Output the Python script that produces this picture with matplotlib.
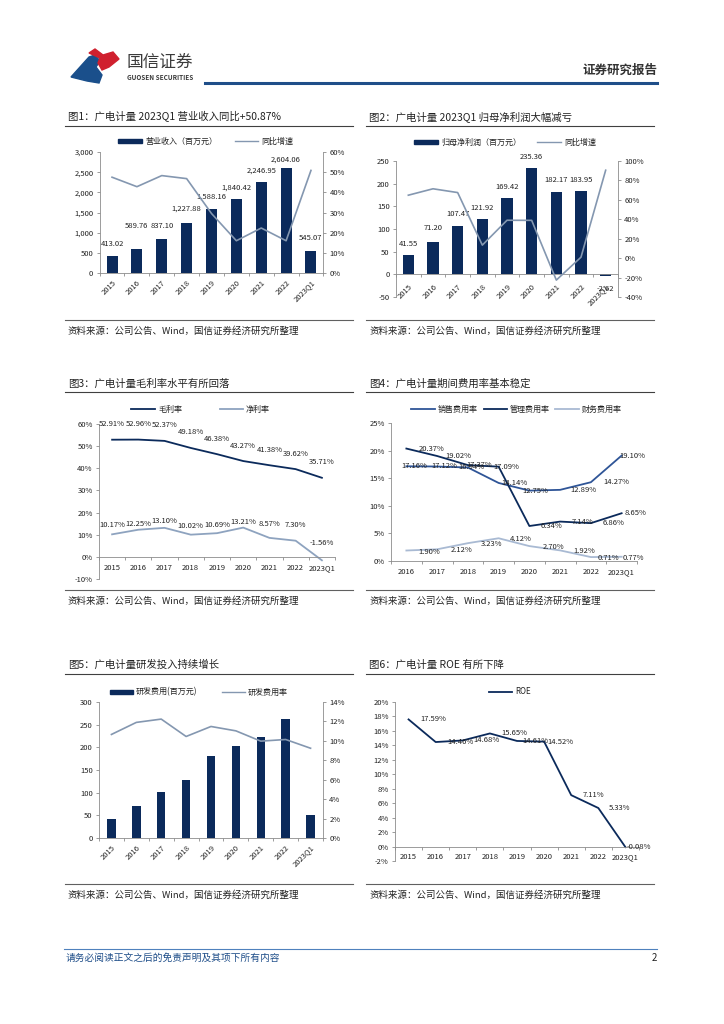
import matplotlib
matplotlib.use('Agg')
import matplotlib.pyplot as plt
from matplotlib.lines import Line2D
from matplotlib.patches import Polygon, Rectangle
import numpy as np

plt.rcParams['font.family'] = ['Noto Sans CJK SC', 'DejaVu Sans']
plt.rcParams['axes.unicode_minus'] = False

# ---------------- data ----------------
years = ['2015', '2016', '2017', '2018', '2019', '2020', '2021', '2022', '2023Q1']
years_fee = ['2016', '2017', '2018', '2019', '2020', '2021', '2022', '2023Q1']

revenue = [413.02, 589.76, 837.10, 1227.88, 1588.16, 1840.42, 2246.95, 2604.06, 545.07]
revenue_yoy = [47.5, 42.8, 48.3, 46.8, 29.5, 16.0, 22.3, 16.0, 50.87]

profit = [41.55, 71.20, 107.47, 121.92, 169.42, 235.36, 182.17, 183.95, -2.62]
profit_yoy = [64.8, 71.4, 67.5, 13.4, 39.0, 38.9, -22.6, 1.0, 90.5]

gross_margin = [52.91, 52.96, 52.37, 49.18, 46.38, 43.27, 41.38, 39.62, 35.71]
net_margin = [10.17, 12.25, 13.10, 10.02, 10.69, 13.21, 8.57, 7.30, -1.56]

sales_rate = [17.16, 17.12, 16.94, 14.14, 12.75, 12.89, 14.27, 19.10]
admin_rate = [20.37, 19.02, 17.37, 17.09, 6.34, 7.14, 6.86, 8.65]
fin_rate = [1.90, 2.12, 3.23, 4.12, 2.70, 1.92, 0.71, 0.77]

rd_cost = [43, 70, 102, 128, 181, 202, 223, 263, 50]
rd_rate = [10.66, 11.90, 12.24, 10.45, 11.48, 11.03, 9.97, 10.14, 9.24]

roe = [17.59, 14.46, 14.68, 15.65, 14.61, 14.52, 7.11, 5.33, -0.08]

# ---------------- style ----------------
W, H = 724, 1024
NAVY = '#0b2a5b'
LIGHT = '#8497b0'
MID = '#2f5597'
PALE = '#a9bad3'
GREY = '#8c8c8c'
TXT = '#222222'
FS = 5.5

fig = plt.figure(figsize=(W / 100, H / 100), dpi=100)


def fx(x):
    return x / W


def fy(y):
    return 1 - y / H


def rect(l, t, r, b):
    return [l / W, 1 - b / H, (r - l) / W, (b - t) / H]


def hline(x0, x1, y, color='#404040', lw=0.8):
    fig.add_artist(Line2D([fx(x0), fx(x1)], [fy(y), fy(y)], color=color, lw=lw))


def leg_line(x0, x1, y, color, text, lw=1.3):
    fig.add_artist(Line2D([fx(x0), fx(x1)], [fy(y), fy(y)], color=color, lw=lw))
    fig.text(fx(x1 + 3), fy(y), text, ha='left', va='center', fontsize=5.8, color=TXT)


def leg_bar(x0, x1, y, text):
    fig.add_artist(Rectangle((fx(x0), fy(y + 2.3)), (x1 - x0) / W, 4.6 / H,
                             color=NAVY, transform=fig.transFigure))
    fig.text(fx(x1 + 3), fy(y), text, ha='left', va='center', fontsize=5.8, color=TXT)


def panel_text(x, ytitle, yline, ysrc, title):
    fig.text(fx(x + 2), fy(ytitle), title, ha='left', va='center', fontsize=7.5, color=TXT)
    hline(x - 1, x + 287, yline)
    hline(x - 1, x + 287, ysrc, color='#606060', lw=0.8)
    fig.text(fx(x + 2), fy(ysrc + 11), '资料来源：公司公告、Wind，国信证券经济研究所整理',
             ha='left', va='center', fontsize=6.8, color=TXT)


def style_axis(ax, cats, ylim, yticks, yfmt, zero_axis=False, rotate=False, xpad=5):
    n = len(cats)
    ax.set_xlim(-0.5, n - 0.5)
    ax.set_ylim(*ylim)
    ax.set_yticks(yticks)
    ax.set_yticklabels([yfmt(v) for v in yticks])
    ax.set_xticks(range(n))
    ax.set_xticklabels(cats)
    ax.set_xticks(np.arange(-0.5, n), minor=True)
    ax.tick_params(axis='x', which='major', length=0, pad=xpad, labelsize=FS, labelcolor=TXT)
    ax.tick_params(axis='x', which='minor', length=2.5, width=0.6, color=GREY, direction='out')
    ax.tick_params(axis='y', length=2.5, width=0.6, color=GREY, pad=2, labelsize=FS,
                   labelcolor=TXT)
    ax.spines['top'].set_visible(False)
    ax.spines['right'].set_visible(False)
    for s in ['left', 'bottom']:
        ax.spines[s].set_color(GREY)
        ax.spines[s].set_linewidth(0.6)
    if zero_axis:
        ax.spines['bottom'].set_position(('data', 0))
    if rotate:
        for lbl in ax.get_xticklabels():
            lbl.set_rotation(45)
            lbl.set_ha('right')
            lbl.set_va('top')
            lbl.set_rotation_mode('anchor')
    ax.patch.set_alpha(0)


def style_twin(tw, ylim, yticks, yfmt):
    tw.set_ylim(*ylim)
    tw.set_yticks(yticks)
    tw.set_yticklabels([yfmt(v) for v in yticks])
    tw.tick_params(axis='y', length=2.5, width=0.6, color=GREY, pad=2, labelsize=FS,
                   labelcolor=TXT)
    for s in ['top', 'left', 'bottom']:
        tw.spines[s].set_visible(False)
    tw.spines['right'].set_color(GREY)
    tw.spines['right'].set_linewidth(0.6)


def label(ax, x, y, text, dx=0, dy=0):
    ax.annotate(text, (x, y), xytext=(dx * 0.72, dy * 0.72), textcoords='offset points',
                ha='center', va='center', fontsize=FS, color=TXT)


pct = lambda v: '{:.0f}%'.format(v)
num = lambda v: '{:,.0f}'.format(v)

# ---------------- header ----------------
fig.add_artist(Polygon([(fx(71), fy(77)), (fx(89), fy(57)), (fx(95), fy(55)), (fx(100), fy(61)),
                        (fx(96), fy(67)), (fx(102), fy(75)), (fx(99), fy(83)), (fx(87), fy(81))],
                       closed=True, color='#1a4f8b', transform=fig.transFigure))
fig.add_artist(Polygon([(fx(89), fy(53)), (fx(95), fy(49)), (fx(103), fy(55)), (fx(113), fy(52)),
                        (fx(119), fy(59)), (fx(109), fy(67)), (fx(102), fy(70)), (fx(98), fy(63)),
                        (fx(100), fy(58))],
                       closed=True, color='#d0202e', transform=fig.transFigure))
fig.text(fx(127), fy(62), '国信证券', ha='left', va='center', fontsize=12, color='#3a3a3a')
fig.text(fx(127), fy(78), 'GUOSEN SECURITIES', ha='left', va='center', fontsize=4.6,
         fontweight='bold', color='#3a3a3a')
hline(205, 657, 83, color='#1f4e89', lw=2.2)
fig.text(fx(657), fy(70), '证券研究报告', ha='right', va='center', fontsize=9,
         fontweight='bold', color='#333333')

# ---------------- footer ----------------
hline(64, 657, 949, color='#4f81bd', lw=0.8)
fig.text(fx(66), fy(958), '请务必阅读正文之后的免责声明及其项下所有内容', ha='left', va='center',
         fontsize=7, color='#1f4e89')
fig.text(fx(657), fy(958), '2', ha='right', va='center', fontsize=7, color=TXT)

x9 = np.arange(len(years))
x8 = np.arange(len(years_fee))

# ---------------- 图1 ----------------
panel_text(66, 117, 126, 320, '图1：广电计量 2023Q1 营业收入同比+50.87%')
ax1 = fig.add_axes(rect(99.6, 152, 323.4, 273))
ax1.bar(x9, revenue, width=0.44, color=NAVY)
style_axis(ax1, years, (0, 3000), range(0, 3001, 500), num, rotate=True, xpad=4)
rev_dy = [12, 23, 13, 15, 12, 11, 12, 8, 13]
for i, v in enumerate(revenue):
    label(ax1, i, v, '{:,.2f}'.format(v), dy=rev_dy[i])
tw1 = ax1.twinx()
tw1.plot(x9, revenue_yoy, color=LIGHT, lw=1.2)
style_twin(tw1, (0, 60), range(0, 61, 10), pct)
leg_bar(118, 142, 141, '营业收入（百万元）')
leg_line(235, 258, 141, LIGHT, '同比增速', lw=1.0)

# ---------------- 图2 ----------------
panel_text(367, 117, 126, 320, '图2：广电计量 2023Q1 归母净利润大幅减亏')
ax2 = fig.add_axes(rect(396, 161, 618, 297))
ax2.bar(x9, profit, width=0.45, color=NAVY)
style_axis(ax2, years, (-50, 250), range(-50, 251, 50), num, zero_axis=True, rotate=True, xpad=6)
pro_dy = [11, 14, 12, 11, 11, 11, 12, 11, -13]
for i, v in enumerate(profit):
    label(ax2, i, v, '{:.2f}'.format(v), dy=pro_dy[i])
tw2 = ax2.twinx()
tw2.plot(x9, profit_yoy, color=LIGHT, lw=1.2)
style_twin(tw2, (-40, 100), range(-40, 101, 20), pct)
leg_bar(414, 438, 142, '归母净利润（百万元）')
leg_line(537, 561, 142, LIGHT, '同比增速', lw=1.0)

# ---------------- 图3 ----------------
panel_text(66, 384, 392, 590, '图3：广电计量毛利率水平有所回落')
ax3 = fig.add_axes(rect(99, 424, 335, 579))
ax3.plot(x9, gross_margin, color=NAVY, lw=1.3)
ax3.plot(x9, net_margin, color='#8ea3bf', lw=1.3)
style_axis(ax3, years, (-10, 60), range(-10, 61, 10), pct, zero_axis=True, xpad=5)
net_dy = [9, 6, 7, 9, 8, 6, 14, 16, 17]
for i in range(len(years)):
    label(ax3, i, gross_margin[i], '{:.2f}%'.format(gross_margin[i]), dy=15.5)
    label(ax3, i, net_margin[i], '{:.2f}%'.format(net_margin[i]), dy=net_dy[i])
leg_line(131, 155, 409, NAVY, '毛利率')
leg_line(220, 243, 409, '#8ea3bf', '净利率')

# ---------------- 图4 ----------------
panel_text(367, 384, 392, 590, '图4：广电计量期间费用率基本稳定')
ax4 = fig.add_axes(rect(391, 423, 637, 561))
ax4.plot(x8, sales_rate, color=MID, lw=1.3)
ax4.plot(x8, admin_rate, color=NAVY, lw=1.3)
ax4.plot(x8, fin_rate, color=PALE, lw=1.3)
style_axis(ax4, years_fee, (0, 25), range(0, 26, 5), pct, xpad=5)
sales_dx = [8, 7, 4, 16, 6, 23, 25, 11]
admin_dx = [25, 21, 11, 8, 22, 22, 23, 14]
fin_dx = [23, 24, 24, 22, 24, 24, 18, 12]
for i in range(len(years_fee)):
    label(ax4, i, sales_rate[i], '{:.2f}%'.format(sales_rate[i]), dx=sales_dx[i])
    label(ax4, i, admin_rate[i], '{:.2f}%'.format(admin_rate[i]), dx=admin_dx[i])
    label(ax4, i, fin_rate[i], '{:.2f}%'.format(fin_rate[i]), dx=fin_dx[i], dy=-1)
leg_line(411, 435, 409, MID, '销售费用率')
leg_line(484, 507, 409, NAVY, '管理费用率')
leg_line(555, 579, 409, PALE, '财务费用率')

# ---------------- 图5 ----------------
panel_text(66, 665, 674, 884, '图5：广电计量研发投入持续增长')
ax5 = fig.add_axes(rect(99, 702, 323, 838))
ax5.bar(x9, rd_cost, width=0.34, color=NAVY)
style_axis(ax5, years, (0, 300), range(0, 301, 50), num, rotate=True, xpad=4)
tw5 = ax5.twinx()
tw5.plot(x9, rd_rate, color=LIGHT, lw=1.2)
style_twin(tw5, (0, 14), range(0, 15, 2), pct)
leg_bar(110, 133, 692, '研发费用(百万元)')
leg_line(222, 245, 692, LIGHT, '研发费用率', lw=1.0)

# ---------------- 图6 ----------------
panel_text(367, 665, 674, 884, '图6：广电计量 ROE 有所下降')
ax6 = fig.add_axes(rect(395, 702, 639, 861))
ax6.plot(x9, roe, color=NAVY, lw=1.3)
style_axis(ax6, years, (-2, 20), range(-2, 21, 2), pct, zero_axis=True, xpad=4.5)
roe_dx = [25, 25, 24, 24, 18, 16, 22, 21, 13]
for i, v in enumerate(roe):
    label(ax6, i, v, '{:.2f}%'.format(v), dx=roe_dx[i])
leg_line(489, 512, 692, NAVY, 'ROE')

fig.savefig('out.png', dpi=100)
